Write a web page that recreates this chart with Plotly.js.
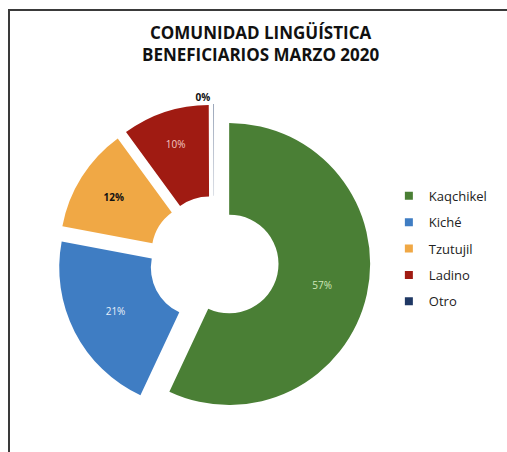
<!DOCTYPE html>
<html>
<head>
<meta charset="utf-8">
<script src="https://cdn.plot.ly/plotly-3.0.1.min.js"></script>
<style>
  html, body { margin: 0; padding: 0; background: #ffffff; }
  #wrap { position: relative; width: 507px; height: 452px; overflow: hidden; }
  #frame { position: absolute; left: 8px; top: 9px; width: 520px; height: 460px;
           border-left: 2px solid #3a3a3a; border-top: 2px solid #3a3a3a; pointer-events: none; }
  #chart { position: absolute; left: 0; top: 0; width: 507px; height: 452px; }
</style>
</head>
<body>
<div id="wrap">
  <div id="chart"></div>
  <div id="frame"></div>
</div>
<script>
const categories = ["Kaqchikel", "Kiché", "Tzutujil", "Ladino", "Otro"];
const values = [57, 21, 12, 10, 0.05];
const sliceColors = ["#4a7f35", "#3f7dc3", "#f0a845", "#a01b12", "#1f3864"];
const labelColors = ["#cfe6b8", "#e8f0fa", "#111111", "#f3c9c4", "#111111"];
const labelTemplates = ["%{percent:.0%}", "%{percent:.0%}", "<b>%{percent:.0%}</b>", "%{percent:.0%}", "<b>%{percent:.0%}</b>"];
const labelPositions = ["inside", "inside", "inside", "inside", "outside"];

const pieTrace = {
  type: "pie",
  labels: categories,
  values: values,
  sort: false,
  direction: "clockwise",
  rotation: 0,
  hole: 0.35,
  pull: 0.11,
  marker: { colors: sliceColors, line: { width: 0 } },
  texttemplate: labelTemplates,
  textposition: labelPositions,
  textfont: { family: "Open Sans, sans-serif", size: 10, color: labelColors },
  insidetextorientation: "horizontal",
  domain: { x: [0.1135, 0.7308], y: [0.0772, 0.7697] },
  hoverinfo: "label+percent",
  showlegend: false
};

// legend entries built from the same category / colour arrays
const legendTraces = categories.map((name, i) => ({
  type: "scatter",
  mode: "markers",
  x: [null],
  y: [null],
  name: name,
  legendgroup: "g" + i,
  marker: { symbol: "square", size: 8, color: sliceColors[i] },
  showlegend: true,
  hoverinfo: "skip"
}));

const layout = {
  width: 507,
  height: 452,
  margin: { l: 0, r: 0, t: 0, b: 0 },
  paper_bgcolor: "#ffffff",
  plot_bgcolor: "rgba(0,0,0,0)",
  xaxis: { visible: false, domain: [0, 0.05] },
  yaxis: { visible: false, domain: [0, 0.05] },
  title: {
    text: "COMUNIDAD LINGÜÍSTICA<br>BENEFICIARIOS MARZO 2020",
    font: { family: "Open Sans, sans-serif", size: 17, color: "#111111", weight: 700 },
    x: 0.514, xanchor: "center", xref: "paper",
    y: 0.914, yanchor: "top", yref: "container"
  },
  showlegend: true,
  legend: {
    x: 0.767, xanchor: "left",
    y: 0.6, yanchor: "top",
    itemwidth: 30,
    tracegroupgap: 6.5,
    font: { family: "Open Sans, sans-serif", size: 13, color: "#222222" },
    traceorder: "grouped"
  }
};

Plotly.newPlot("chart", [pieTrace, ...legendTraces], layout, { displayModeBar: false, staticPlot: true });
</script>
</body>
</html>
